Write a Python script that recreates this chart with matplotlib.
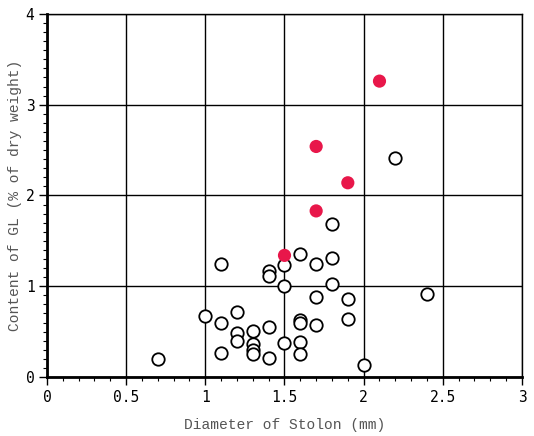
import matplotlib
matplotlib.use("Agg")
import matplotlib.pyplot as plt
from matplotlib.ticker import MultipleLocator

# open circles
diam = [0.7, 1.0, 1.1, 1.1, 1.1, 1.2, 1.2, 1.2, 1.3, 1.3, 1.3, 1.3,
        1.4, 1.4, 1.4, 1.4, 1.5, 1.5, 1.5, 1.6, 1.6, 1.6, 1.6, 1.6,
        1.7, 1.7, 1.7, 1.8, 1.8, 1.8, 1.9, 1.9, 2.0, 2.2, 2.4]
gl = [0.20, 0.67, 1.25, 0.60, 0.26, 0.72, 0.48, 0.40, 0.51, 0.36, 0.30, 0.25,
      1.17, 1.11, 0.55, 0.21, 1.23, 1.00, 0.38, 1.35, 0.63, 0.60, 0.39, 0.25,
      1.24, 0.88, 0.57, 1.69, 1.31, 1.02, 0.86, 0.64, 0.13, 2.41, 0.91]

# red filled points
diam_red = [1.5, 1.7, 1.7, 1.9, 2.1]
gl_red = [1.34, 2.54, 1.83, 2.14, 3.26]

fig = plt.figure(figsize=(5.34, 4.36), dpi=100)
ax = fig.add_axes([0.088, 0.1353, 0.8895, 0.8327])

ax.set_xlim(0, 3)
ax.set_ylim(0, 4)
ax.xaxis.set_major_locator(MultipleLocator(0.5))
ax.xaxis.set_minor_locator(MultipleLocator(0.1))
ax.yaxis.set_major_locator(MultipleLocator(1))
ax.yaxis.set_minor_locator(MultipleLocator(0.1))
ax.xaxis.set_major_formatter(lambda v, p: f"{v:g}")
ax.yaxis.set_major_formatter(lambda v, p: f"{v:g}")

ax.grid(True, which="major", color="black", linewidth=1)
ax.set_axisbelow(True)

ax.scatter(diam, gl, s=80, facecolors="white", edgecolors="black",
           linewidths=1.3, zorder=3, clip_on=False)
ax.scatter(diam_red, gl_red, s=90, color="#e8174a", edgecolors="none",
           zorder=4, clip_on=False)

for side in ["left", "bottom"]:
    ax.spines[side].set_linewidth(2)
for side in ["top", "right"]:
    ax.spines[side].set_linewidth(1)

ax.tick_params(which="major", direction="out", length=6, width=1,
               labelsize=10.5, pad=3)
ax.tick_params(which="minor", direction="out", length=3, width=0.8)
for lab in ax.get_xticklabels() + ax.get_yticklabels():
    lab.set_fontfamily("DejaVu Sans Mono")

ax.set_xlabel("Diameter of Stolon (mm)", family="Liberation Mono",
              fontsize=10.5, color="#555555", labelpad=10)
ax.set_ylabel("Content of GL (% of dry weight)", family="Liberation Mono",
              fontsize=10.5, color="#555555", labelpad=3)

fig.savefig("out.png", dpi=100)
